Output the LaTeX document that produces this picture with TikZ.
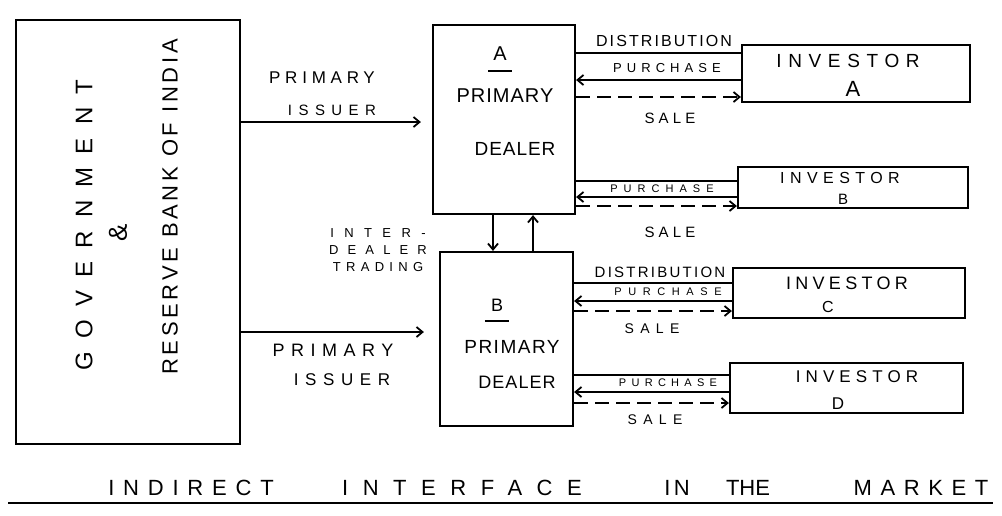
\documentclass[tikz,border=0pt]{standalone}
\usepackage{fontspec}
\setmainfont{Liberation Sans}
\usetikzlibrary{arrows.meta,calc}
\begin{document}
\begin{tikzpicture}[x=1pt,y=-1pt,
  hw/.style n args={3}{font=\fontsize{#1}{#2}\selectfont\addfontfeature{LetterSpace=#3}, inner sep=0pt},
  box/.style={draw, line width=2.2pt, inner sep=0pt},
  conn/.style={line width=1.8pt},
  arr/.style={line width=1.8pt, -{Straight Barb[length=6pt,width=10pt]}},
  sale/.style={arr, dash pattern=on 14pt off 7pt},
]
\path[use as bounding box] (0,0) rectangle (1002,515);

% boxes
\node[box, minimum width=224pt, minimum height=424pt] (gov) at (128,232) {};
\node[box, minimum width=142pt, minimum height=189pt] (dA) at (504,119.5) {};
\node[box, minimum width=133pt, minimum height=174pt] (dB) at (506.5,339) {};
\node[box, minimum width=228pt, minimum height=57pt] (iA) at (856,73.5) {};
\node[box, minimum width=230pt, minimum height=41pt] (iB) at (853,187.5) {};
\node[box, minimum width=232pt, minimum height=50pt] (iC) at (849,293) {};
\node[box, minimum width=233pt, minimum height=50pt] (iD) at (846.5,388) {};

% left box text
\node[hw={24}{24}{55}, rotate=90] (tgov) at (84,225) {GOVERNMENT};
\node[hw={26}{26}{0}, rotate=90] (tamp) at (118,233) {\&};
\node[hw={22}{22}{17}, rotate=90] (trbi) at (170,207) {RESERVE BANK OF INDIA};

% primary issuer
\node[hw={17}{17}{28}] (pi1) at (322,78) {PRIMARY};
\node[hw={15}{15}{43}] (is1) at (332,110) {ISSUER};
\node[hw={18}{18}{36}] (pi2) at (333,350) {PRIMARY};
\node[hw={17}{17}{39}] (is2) at (342,380) {ISSUER};
\draw[arr, shorten >=11pt] (gov.east |- 0,122) -- (dA.west |- 0,122);
\draw[arr, shorten >=15pt] (gov.east |- 0,332) -- (dB.west |- 0,332);

% dealer labels
\node[hw={20}{20}{0}] (la) at (500,54) {A};
\draw[conn] ($(la.south west)+(-5,10)$) -- ($(la.south east)+(5,10)$);
\node[hw={20}{20}{5}] (pa) at (505,96) {PRIMARY};
\node[hw={19}{19}{5}] (da) at (515,149) {DEALER};
\node[hw={18}{18}{0}] (lb) at (497,305) {B};
\draw[conn] ($(lb.south west)+(-6,10)$) -- ($(lb.south east)+(6,10)$);
\node[hw={19}{19}{8}] (pb) at (512,347) {PRIMARY};
\node[hw={18}{18}{6}] (db) at (517,382) {DEALER};

% inter-dealer trading
\node[align=center, hw={13}{17}{0}] (idt) at (378,250)
  {{\addfontfeature{LetterSpace=80}INTER-}\\{\addfontfeature{LetterSpace=70}DEALER}\\{\addfontfeature{LetterSpace=41}TRADING}};
\draw[arr] (dA.south -| 493,0) -- (dB.north -| 493,0);
\draw[arr] (dB.north -| 533,0) -- (dA.south -| 533,0);

% investor labels
\node[hw={19}{19}{35}] (nA) at (848,61) {INVESTOR};
\node[hw={22}{22}{0}] (nA2) at (853,89) {A};
\node[hw={16}{16}{34}] (nB) at (840,178) {INVESTOR};
\node[hw={15}{15}{0}] (nB2) at (843,199) {B};
\node[hw={18}{18}{24}] (nC) at (847,283) {INVESTOR};
\node[hw={16}{16}{0}] (nC2) at (828,307) {C};
\node[hw={17}{17}{30}] (nD) at (857,377) {INVESTOR};
\node[hw={17}{17}{0}] (nD2) at (838,404) {D};

% investor A
\node[hw={16}{16}{13}] (dis1) at (664,41) {DISTRIBUTION};
\draw[conn] (dA.east |- 0,53) -- (iA.west |- 0,53);
\node[hw={13}{13}{39}] (pu1) at (667,68) {PURCHASE};
\draw[arr] (iA.west |- 0,80) -- (dA.east |- 0,80);
\draw[sale] (dA.east |- 0,97) -- (iA.west |- 0,97);
\node[hw={15}{15}{28}] (sa1) at (670,118) {SALE};

% investor B
\draw[conn] (dA.east |- 0,181) -- (iB.west |- 0,181);
\node[hw={11}{11}{55}] (pu2) at (662,189) {PURCHASE};
\draw[arr] (iB.west |- 0,197) -- (dA.east |- 0,197);
\draw[sale] (dA.east |- 0,206) -- (iB.west |- 0,206);
\node[hw={15}{15}{28}] (sa2) at (670,232) {SALE};

% investor C
\node[hw={15}{15}{15}] (dis2) at (660,272) {DISTRIBUTION};
\draw[conn] (dB.east |- 0,283) -- (iC.west |- 0,283);
\node[hw={11}{11}{60}] (pu3) at (668,292) {PURCHASE};
\draw[arr] (iC.west |- 0,301) -- (dB.east |- 0,301);
\draw[sale] (dB.east |- 0,311) -- (iC.west |- 0,311);
\node[hw={14}{14}{45}] (sa3) at (652,329) {SALE};

% investor D
\draw[conn] (dB.east |- 0,375) -- (iD.west |- 0,375);
\node[hw={11}{11}{48}] (pu4) at (668,383) {PURCHASE};
\draw[arr] (iD.west |- 0,392) -- (dB.east |- 0,392);
\draw[sale] (dB.east |- 0,403) -- (iD.west |- 0,403);
\node[hw={14}{14}{45}] (sa4) at (655,420) {SALE};

% title
\node[hw={22}{22}{40}] (t1) at (191,488) {INDIRECT};
\node[hw={22}{22}{66}] (t2) at (462,488) {INTERFACE};
\node[hw={22}{22}{15}] (t3) at (677,488) {IN};
\node[hw={22}{22}{0}] (t4) at (748,488) {THE};
\node[hw={22}{22}{39}] (t5) at (921,488) {MARKET};
\draw[conn] (8,503) -- (993,503);
\end{tikzpicture}
\end{document}
